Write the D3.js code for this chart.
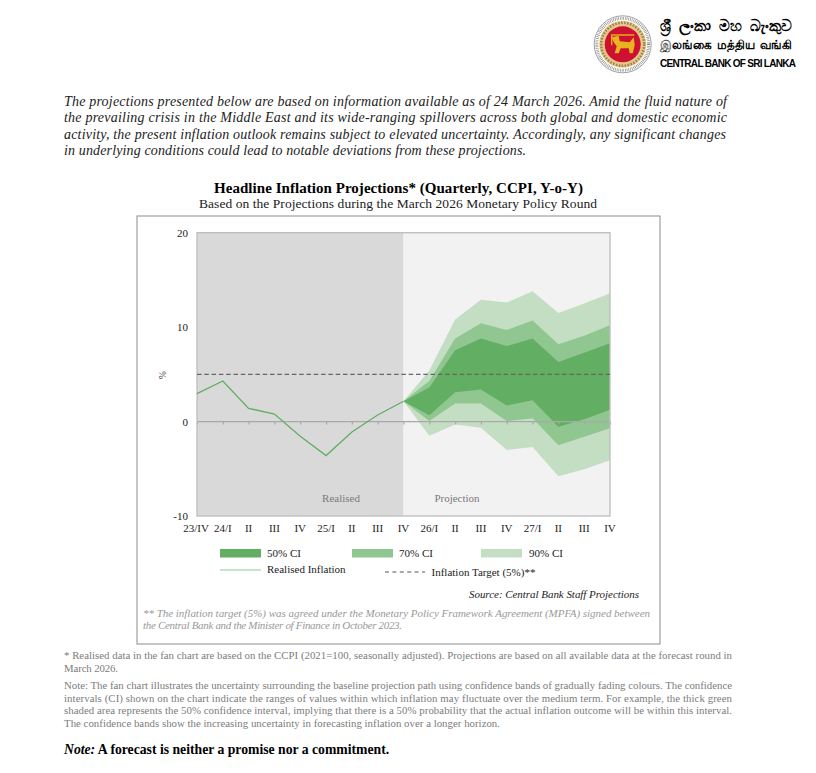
<!DOCTYPE html>
<html><head><meta charset="utf-8">
<script src="https://cdn.jsdelivr.net/npm/d3@7/dist/d3.min.js"></script>
<style>html,body{margin:0;padding:0;background:#fff}svg{display:block}text{font-family:"Liberation Serif",serif}</style>
</head><body><svg id="c" width="816" height="773"></svg>
<script>
const tickLabels=["23/IV","24/I","II","III","IV","25/I","II","III","IV","26/I","II","III","IV","27/I","II","III","IV"];
const yTicks=[-10,0,10,20];
const realised=[2.96,4.3,1.4,0.8,-1.55,-3.6,-1.1,0.7,2.15];
const ci90Upper=[2.15,5.4,10.8,12.9,12.6,13.8,11.5,12.5,13.6];
const ci70Upper=[2.15,4.3,8.8,10.4,9.7,10.7,8.2,9.1,10.2];
const ci50Upper=[2.15,3.6,7.55,8.8,8.0,8.8,6.3,7.3,8.3];
const ci50Lower=[2.15,0.67,3.1,3.4,1.7,2.25,-0.55,0.25,1.25];
const ci70Lower=[2.15,0.05,1.9,1.9,0.05,0.35,-2.5,-1.6,-0.7];
const ci90Lower=[2.15,-1.5,-0.3,-0.65,-3.0,-2.7,-5.8,-5.05,-4.1];
const targetValue=5;
const introLines=["The projections presented below are based on information available as of 24 March 2026. Amid the fluid nature of","the prevailing crisis in the Middle East and its wide-ranging spillovers across both global and domestic economic","activity, the present inflation outlook remains subject to elevated uncertainty. Accordingly, any significant changes","in underlying conditions could lead to notable deviations from these projections."];
const footLines=["* Realised data in the fan chart are based on the CCPI (2021=100, seasonally adjusted). Projections are based on all available data at the forecast round in","March 2026."];
const noteLines=["Note: The fan chart illustrates the uncertainty surrounding the baseline projection path using confidence bands of gradually fading colours. The confidence","intervals (CI) shown on the chart indicate the ranges of values within which inflation may fluctuate over the medium term. For example, the thick green","shaded area represents the 50% confidence interval, implying that there is a 50% probability that the actual inflation outcome will be within this interval.","The confidence bands show the increasing uncertainty in forecasting inflation over a longer horizon."];
const mpfaLines=["** The inflation target (5%) was agreed under the Monetary Policy Framework Agreement (MPFA) signed between","the Central Bank and the Minister of Finance in October 2023."];

const svg=d3.select("#c");
const C={d50:"#62ae62",d70:"#90c690",d90:"#c3dec3",line:"#62ae62",gray:"#d9d9d9",light:"#f2f2f2",border:"#bdbdbd"};
const x=d3.scalePoint().domain(d3.range(tickLabels.length)).range([197,610]);
const y=d3.scaleLinear().domain([-10,20]).range([516,232.7]);
function txt(s,px,py,size,o={}){const t=svg.append("text").attr("x",px).attr("y",py).attr("font-size",size).attr("fill",o.fill||"#222").text(s);
 if(o.anchor)t.attr("text-anchor",o.anchor); if(o.italic)t.attr("font-style","italic"); if(o.bold)t.attr("font-weight","bold"); if(o.len)t.attr("textLength",o.len).attr("lengthAdjust","spacing"); if(o.family)t.style("font-family",o.family); return t;}

// header logo
const lg=svg.append("g").attr("transform","translate(622.7,44.3)");
lg.append("circle").attr("r",28.5).attr("fill","#fff").attr("stroke","#777").attr("stroke-width",.7);
lg.append("circle").attr("r",26).attr("fill","none").attr("stroke","#888").attr("stroke-width",3).attr("stroke-dasharray",".7 1");
lg.append("circle").attr("r",23.5).attr("fill","#e6c98a");
lg.append("circle").attr("r",21.5).attr("fill","none").attr("stroke","#9a8350").attr("stroke-width",2.5).attr("stroke-dasharray","1.6 1.4");
lg.append("circle").attr("r",18).attr("fill","#cc1230");
lg.append("rect").attr("x",-11.5).attr("y",-10).attr("width",23).attr("height",1.4).attr("fill","#e9b320");
lg.append("path").attr("d","M-11,-7 L-4,-8.5 L-3,-3 L7,-2 L11,-7 L12,1 L10,9 L7,9 L6,4 L-2,4 L-4,9 L-8,9 L-6,2 L-9,-2 Z").attr("fill","#e9b320");
lg.append("line").attr("x1",-11).attr("x2",-11).attr("y1",-9).attr("y2",1).attr("stroke","#e9b320").attr("stroke-width",1.4);
txt("ශ්‍රී ලංකා මහ බැංකුව",660,31,15,{family:"'Noto Sans',sans-serif",fill:"#000",bold:true}).attr("word-spacing",4);
txt("இலங்கை மத்திய வங்கி",660,49,12.2,{family:"'Noto Sans',sans-serif",fill:"#000",bold:true}).attr("word-spacing",2);
txt("CENTRAL BANK OF SRI LANKA",660,67,10,{family:"'Liberation Sans',sans-serif",bold:true,fill:"#000",len:136});

// intro
const introLen=[663,663,662,462];
introLines.forEach((s,i)=>txt(s,64,[106,122,139,155][i],14,{italic:true,len:introLen[i]}));

// titles
txt("Headline Inflation Projections* (Quarterly, CCPI, Y-o-Y)",398.5,192.5,15,{anchor:"middle",bold:true,fill:"#000",len:369});
txt("Based on the Projections during the March 2026 Monetary Policy Round",398,208,13.5,{anchor:"middle",len:398});

// frame
svg.append("rect").attr("x",137).attr("y",216).attr("width",523).attr("height",428).attr("fill","#fff").attr("stroke","#8c8c8c").attr("stroke-width",1);

// plot bg
const bd=x(8);
svg.append("rect").attr("x",x(0)).attr("y",y(20)).attr("width",bd-x(0)).attr("height",y(-10)-y(20)).attr("fill",C.gray);
svg.append("rect").attr("x",bd).attr("y",y(20)).attr("width",x(16)-bd).attr("height",y(-10)-y(20)).attr("fill",C.light);

// bands
const band=d3.area().x((d,i)=>x(i+8)).y0(d=>y(d[0])).y1(d=>y(d[1]));
svg.append("path").datum(d3.zip(ci90Lower,ci90Upper)).attr("d",band).attr("fill",C.d90);
svg.append("path").datum(d3.zip(ci70Lower,ci70Upper)).attr("d",band).attr("fill",C.d70);
svg.append("path").datum(d3.zip(ci50Lower,ci50Upper)).attr("d",band).attr("fill",C.d50);

// zero axis with ticks
const xAxis=d3.axisBottom(x).tickSize(3).tickFormat("");
const gx=svg.append("g").attr("transform",`translate(0,${y(0)})`).call(xAxis);
gx.selectAll("path,line").attr("stroke","#a9a9a9").attr("stroke-width",1.2);
gx.select("path").attr("d",`M${x(0)},0H${x(16)}`);
// plot outline
svg.append("rect").attr("x",x(0)).attr("y",y(20)).attr("width",x(16)-x(0)).attr("height",y(-10)-y(20)).attr("fill","none").attr("stroke",C.border).attr("stroke-width",1.3);

// target
svg.append("line").attr("x1",x(0)).attr("x2",x(16)).attr("y1",y(targetValue)).attr("y2",y(targetValue)).attr("stroke","#666").attr("stroke-width",1.2).attr("stroke-dasharray","4.5 2.8");
// realised
svg.append("path").datum(realised).attr("d",d3.line().x((d,i)=>x(i)).y(d=>y(d))).attr("fill","none").attr("stroke",C.line).attr("stroke-width",1.3);

// labels
tickLabels.forEach((s,i)=>txt(s,x(i)+(i==0?-1:0),532,11,{anchor:"middle",fill:"#222"}));
const gy=svg.append("g").attr("transform",`translate(${x(0)},0)`).call(d3.axisLeft(y).tickValues(yTicks).tickSize(0).tickPadding(9).tickFormat(d=>String(d)));
gy.select("path").remove();
gy.selectAll("text").attr("font-size",11).attr("font-family","Liberation Serif").attr("fill","#222");
svg.append("text").attr("transform","translate(166,375) rotate(-90)").attr("text-anchor","middle").attr("font-size",9.5).attr("fill","#333").text("%");
txt("Realised",341,502,11,{anchor:"middle",fill:"#7a7a7a"});
txt("Projection",457,502,11,{anchor:"middle",fill:"#7a7a7a"});

// legend
[[220,C.d50,"50% CI",267],[352,C.d70,"70% CI",399],[481,C.d90,"90% CI",529]].forEach(([lx,c,s,tx])=>{
 svg.append("rect").attr("x",lx).attr("y",549).attr("width",41).attr("height",8.5).attr("fill",c);
 txt(s,tx,557,11);
});
svg.append("line").attr("x1",220).attr("x2",261).attr("y1",570).attr("y2",570).attr("stroke","#8fcb93").attr("stroke-width",1);
txt("Realised Inflation",267,573,11);
svg.append("line").attr("x1",385).attr("x2",425).attr("y1",572).attr("y2",572).attr("stroke","#555").attr("stroke-width",1).attr("stroke-dasharray","4 3.4");
txt("Inflation Target (5%)**",431.5,576,11);
txt("Source: Central Bank Staff Projections",639,598,11,{anchor:"end",italic:true,len:170});
mpfaLines.forEach((s,i)=>txt(s,143,[617,629][i],11,{italic:true,fill:"#999",len:[507,259][i]}));

// footnotes
footLines.forEach((s,i)=>txt(s,64,[659,672][i],10.8,{fill:"#7c7c7c",len:[668,54][i]}));
noteLines.forEach((s,i)=>txt(s,64,[689,702,714,727][i],10.8,{fill:"#7c7c7c",len:[668,668,668,436][i]}));
const nt=txt("",64,754,13.7,{bold:true,fill:"#000"});
nt.append("tspan").attr("font-style","italic").text("Note:");
nt.append("tspan").text(" A forecast is neither a promise nor a commitment.");
</script></body></html>
